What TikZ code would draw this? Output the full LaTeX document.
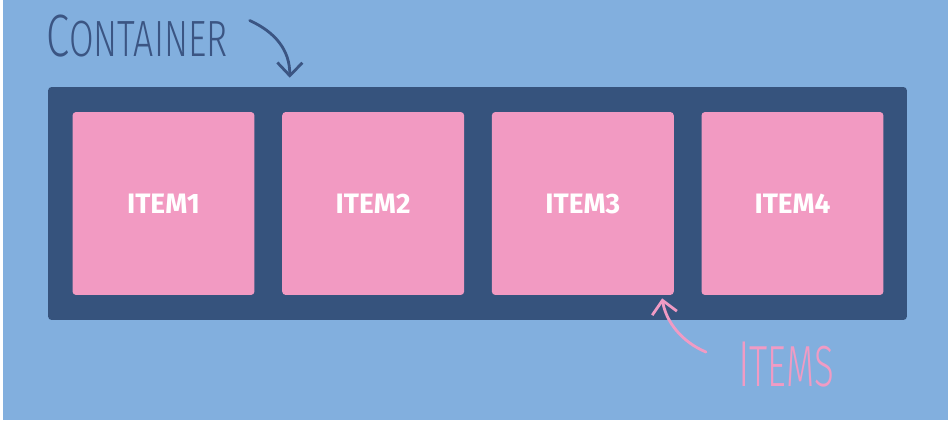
\documentclass[tikz,border=0pt]{standalone}
\usepackage{fontspec}
\usepackage{tikz}
\usetikzlibrary{arrows.meta,positioning,calc}
\newfontfamily\boxfont{Fira Sans}
\newfontfamily\tagfont{Fira Sans Light}
\definecolor{sky}{RGB}{130,175,222}
\definecolor{navy}{RGB}{54,83,125}
\definecolor{rose}{RGB}{242,154,194}
\definecolor{inklbl}{RGB}{59,85,131}
\definecolor{roselbl}{RGB}{240,155,196}

\begin{document}
\begin{tikzpicture}[x=0.02cm,y=-0.02cm,
  ctr/.style={fill=navy,rounded corners=2pt,minimum width=17.18cm,minimum height=4.66cm,inner sep=0pt},
  itm/.style={fill=rose,rounded corners=2pt,minimum width=3.64cm,minimum height=3.66cm,inner sep=0pt,
    text=white,font=\boxfont\bfseries\fontsize{16}{16}\selectfont},
  tag/.style={inner sep=0pt,anchor=base west},
  hand/.style={line width=1.6pt,line cap=round,-{Straight Barb[length=2.6mm,width=5mm,line width=1.6pt]}}]
\fill[white] (0,0) rectangle (948,423);
\fill[sky] (3,0) rectangle (948,420);
\node[ctr] (box) at (477.5,203.5) {};
\node[itm] (item1) at (163.5,203.5) {ITEM1};
\node[itm,right=0.54cm of item1] (item2) {ITEM2};
\node[itm,right=0.54cm of item2] (item3) {ITEM3};
\node[itm,right=0.54cm of item3] (item4) {ITEM4};
% labels
\node[tag,text=inklbl] (ctrlbl) at (46,56)
  {\scalebox{0.7}[1]{\tagfont\fontsize{34}{34}\selectfont C\fontsize{29}{29}\selectfont ONTAINER}};
\node[tag,text=roselbl] (itlbl) at (738,386)
  {\scalebox{0.63}[1]{\tagfont\fontsize{37}{37}\selectfont I\fontsize{33}{33}\selectfont TEMS}};
% arrows
\coordinate (ctrtip) at ($(box.north west)+(242,-9)$);
\coordinate (ittip) at ($(item3.south east)+(-12,3)$);
\draw[hand,inklbl] ($(ctrlbl.east)+(22,-15)$) .. controls (275,32) and (290,50) .. (ctrtip);
\draw[hand,roselbl] ($(itlbl.west)+(-32,-12)$) .. controls (682,342) and (666,322) .. (ittip);
\end{tikzpicture}
\end{document}
